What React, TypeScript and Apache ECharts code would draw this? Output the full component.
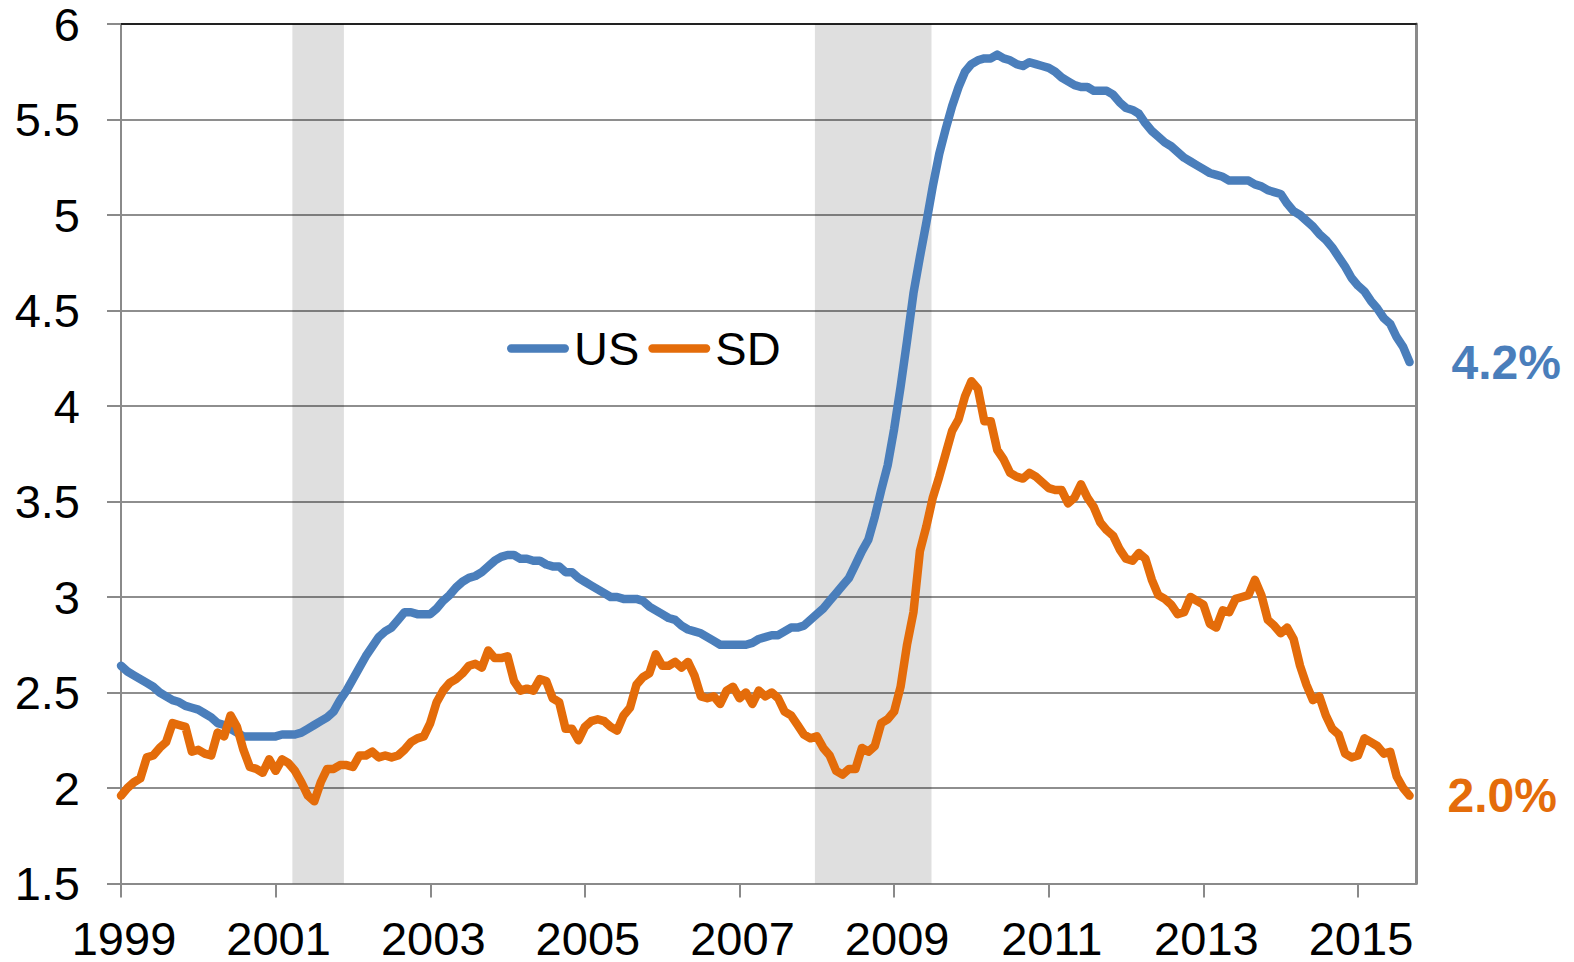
import React, { useEffect, useRef } from "react";
import * as echarts from "echarts";

// Months since Jan 1999 (index 0) to Sep 2015 (index 200)
const usRate: number[] = [
  2.64, 2.61, 2.59, 2.57, 2.55, 2.53, 2.50, 2.48, 2.46, 2.45, 2.43, 2.42,
  2.41, 2.39, 2.37, 2.34, 2.33, 2.31, 2.29, 2.27, 2.27, 2.27, 2.27, 2.27,
  2.27, 2.28, 2.28, 2.28, 2.29, 2.31, 2.33, 2.35, 2.37, 2.40, 2.46, 2.51,
  2.57, 2.63, 2.69, 2.74, 2.79, 2.82, 2.84, 2.88, 2.92, 2.92, 2.91, 2.91,
  2.91, 2.94, 2.98, 3.01, 3.05, 3.08, 3.10, 3.11, 3.13, 3.16, 3.19, 3.21,
  3.22, 3.22, 3.20, 3.20, 3.19, 3.19, 3.17, 3.16, 3.16, 3.13, 3.13, 3.10,
  3.08, 3.06, 3.04, 3.02, 3.00, 3.00, 2.99, 2.99, 2.99, 2.98, 2.95, 2.93,
  2.91, 2.89, 2.88, 2.85, 2.83, 2.82, 2.81, 2.79, 2.77, 2.75, 2.75, 2.75,
  2.75, 2.75, 2.76, 2.78, 2.79, 2.80, 2.80, 2.82, 2.84, 2.84, 2.85, 2.88,
  2.91, 2.94, 2.98, 3.02, 3.06, 3.10, 3.17, 3.24, 3.30, 3.42, 3.56, 3.69,
  3.88, 4.10, 4.34, 4.59, 4.78, 4.96, 5.15, 5.32, 5.45, 5.57, 5.67, 5.75,
  5.79, 5.81, 5.82, 5.82, 5.84, 5.82, 5.81, 5.79, 5.78, 5.80, 5.79, 5.78,
  5.77, 5.75, 5.72, 5.70, 5.68, 5.67, 5.67, 5.65, 5.65, 5.65, 5.63, 5.59,
  5.56, 5.55, 5.53, 5.48, 5.44, 5.41, 5.38, 5.36, 5.33, 5.30, 5.28, 5.26,
  5.24, 5.22, 5.21, 5.20, 5.18, 5.18, 5.18, 5.18, 5.16, 5.15, 5.13, 5.12,
  5.11, 5.06, 5.02, 5.00, 4.97, 4.94, 4.90, 4.87, 4.83, 4.78, 4.73, 4.67,
  4.63, 4.60, 4.55, 4.51, 4.46, 4.43, 4.36, 4.31, 4.23,
];

const sdRate: number[] = [
  1.96, 2.00, 2.03, 2.05, 2.16, 2.17, 2.21, 2.24, 2.34, 2.33, 2.32, 2.19,
  2.20, 2.18, 2.17, 2.29, 2.27, 2.38, 2.32, 2.20, 2.11, 2.10, 2.08, 2.15,
  2.09, 2.15, 2.13, 2.09, 2.03, 1.96, 1.93, 2.03, 2.10, 2.10, 2.12, 2.12,
  2.11, 2.17, 2.17, 2.19, 2.16, 2.17, 2.16, 2.17, 2.20, 2.24, 2.26, 2.27,
  2.34, 2.45, 2.51, 2.55, 2.57, 2.60, 2.64, 2.65, 2.63, 2.72, 2.68, 2.68,
  2.69, 2.56, 2.51, 2.52, 2.51, 2.57, 2.56, 2.47, 2.45, 2.31, 2.31, 2.25,
  2.32, 2.35, 2.36, 2.35, 2.32, 2.30, 2.38, 2.42, 2.54, 2.58, 2.60, 2.70,
  2.64, 2.64, 2.66, 2.63, 2.66, 2.59, 2.48, 2.47, 2.48, 2.44, 2.51, 2.53,
  2.47, 2.50, 2.44, 2.51, 2.48, 2.50, 2.47, 2.40, 2.38, 2.33, 2.28, 2.26,
  2.27, 2.21, 2.17, 2.09, 2.07, 2.10, 2.10, 2.21, 2.19, 2.22, 2.34, 2.36,
  2.40, 2.53, 2.75, 2.92, 3.24, 3.37, 3.52, 3.63, 3.75, 3.87, 3.93, 4.05,
  4.13, 4.09, 3.92, 3.92, 3.77, 3.72, 3.65, 3.63, 3.62, 3.65, 3.63, 3.60,
  3.57, 3.56, 3.56, 3.49, 3.52, 3.59, 3.52, 3.47, 3.39, 3.35, 3.32, 3.25,
  3.20, 3.19, 3.23, 3.20, 3.09, 3.01, 2.99, 2.96, 2.91, 2.92, 3.00, 2.98,
  2.96, 2.86, 2.84, 2.93, 2.92, 2.99, 3.00, 3.01, 3.09, 3.01, 2.88, 2.85,
  2.81, 2.84, 2.78, 2.64, 2.54, 2.46, 2.48, 2.38, 2.31, 2.28, 2.18, 2.16,
  2.17, 2.26, 2.24, 2.22, 2.18, 2.19, 2.06, 2.00, 1.96,
];

// Recession periods, in months since Jan 1999
const recessions: [number, number][] = [
  [26.6, 34.6],
  [107.7, 125.8],
];

const seriesNames = ["US", "SD"];
const endLabels = ["4.2%", "2.0%"];
const startYear = 1999;

const BLUE = "#4a7ebb";
const ORANGE = "#e46c0a";
const FONT = "Liberation Sans, Arial, sans-serif";
const FS = 47;

export default function App() {
  const ref = useRef<HTMLDivElement>(null);

  useEffect(() => {
    if (!ref.current) return;
    const chart = echarts.init(ref.current, undefined, { renderer: "svg" });
    const toPairs = (arr: number[]) => arr.map((v, i) => [i, v]);
    const capsule = "path://M4,0 H56 A4,4 0 0 1 56,8 H4 A4,4 0 0 1 4,0 Z";

    chart.setOption({
      animation: false,
      backgroundColor: "#ffffff",
      textStyle: { fontFamily: FONT },
      grid: { left: 121, right: 158, top: 24, bottom: 78, containLabel: false },
      legend: {
        left: 502,
        top: 320,
        itemWidth: 62,
        itemHeight: 9,
        itemGap: 9,
        textStyle: { fontSize: FS, color: "#000", fontFamily: FONT },
        data: [
          { name: seriesNames[0], icon: capsule },
          { name: seriesNames[1], icon: capsule },
        ],
      },
      xAxis: [
        {
          type: "value",
          min: 0,
          max: 201,
          interval: 24,
          axisLine: { show: true, onZero: false, lineStyle: { color: "#8a8a8a", width: 2 } },
          axisTick: { show: true, length: 14, lineStyle: { color: "#8a8a8a", width: 2 } },
          axisLabel: {
            fontSize: FS,
            lineHeight: 36,
            color: "#000",
            fontFamily: FONT,
            margin: 37,
            padding: [0, 0, 0, 6],
            showMaxLabel: false,
            formatter: (v: number) => String(startYear + v / 12),
          },
          splitLine: { show: false },
        },
        {
          type: "value",
          position: "top",
          min: 0,
          max: 201,
          axisLine: { show: true, onZero: false, lineStyle: { color: "#222", width: 2 } },
          axisTick: { show: false },
          axisLabel: { show: false },
          splitLine: { show: false },
        },
      ],
      yAxis: [
        {
          type: "value",
          min: 1.5,
          max: 6,
          interval: 0.5,
          axisLine: { show: true, onZero: false, lineStyle: { color: "#8a8a8a", width: 2 } },
          axisTick: { show: true, length: 14, lineStyle: { color: "#8a8a8a", width: 2 } },
          axisLabel: { fontSize: FS, lineHeight: 36, color: "#000", fontFamily: FONT, margin: 41 },
          splitLine: { show: true, lineStyle: { color: "#8e8e8e", width: 2 } },
        },
        {
          type: "value",
          position: "right",
          min: 1.5,
          max: 6,
          interval: 0.5,
          axisLine: { show: true, onZero: false, lineStyle: { color: "#8a8a8a", width: 3 } },
          axisTick: { show: false },
          axisLabel: { show: false },
          splitLine: { show: false },
        },
      ],
      series: [
        {
          name: "recessions",
          type: "line",
          data: [],
          z: 1,
          silent: true,
          markArea: {
            silent: true,
            itemStyle: { color: "rgba(0,0,0,0.125)" },
            data: recessions.map(([a, b]) => [{ xAxis: a }, { xAxis: b }]),
          },
        },
        {
          name: seriesNames[0],
          type: "line",
          data: toPairs(usRate),
          showSymbol: false,
          symbol: "none",
          z: 3,
          color: BLUE,
          lineStyle: { color: BLUE, width: 8.5, cap: "round", join: "round" },
          endLabel: {
            show: true,
            formatter: () => endLabels[0],
            color: BLUE,
            fontWeight: "bold",
            fontSize: 48,
            fontFamily: FONT,
            distance: 42,
          },
        },
        {
          name: seriesNames[1],
          type: "line",
          data: toPairs(sdRate),
          showSymbol: false,
          symbol: "none",
          z: 3,
          color: ORANGE,
          lineStyle: { color: ORANGE, width: 8.5, cap: "round", join: "round" },
          endLabel: {
            show: true,
            formatter: () => endLabels[1],
            color: ORANGE,
            fontWeight: "bold",
            fontSize: 48,
            fontFamily: FONT,
            distance: 38,
          },
        },
      ],
    });

    return () => chart.dispose();
  }, []);

  return (
    <div
      ref={ref}
      style={{ position: "fixed", left: 0, top: 0, width: 1574, height: 962, background: "#fff" }}
    />
  );
}
